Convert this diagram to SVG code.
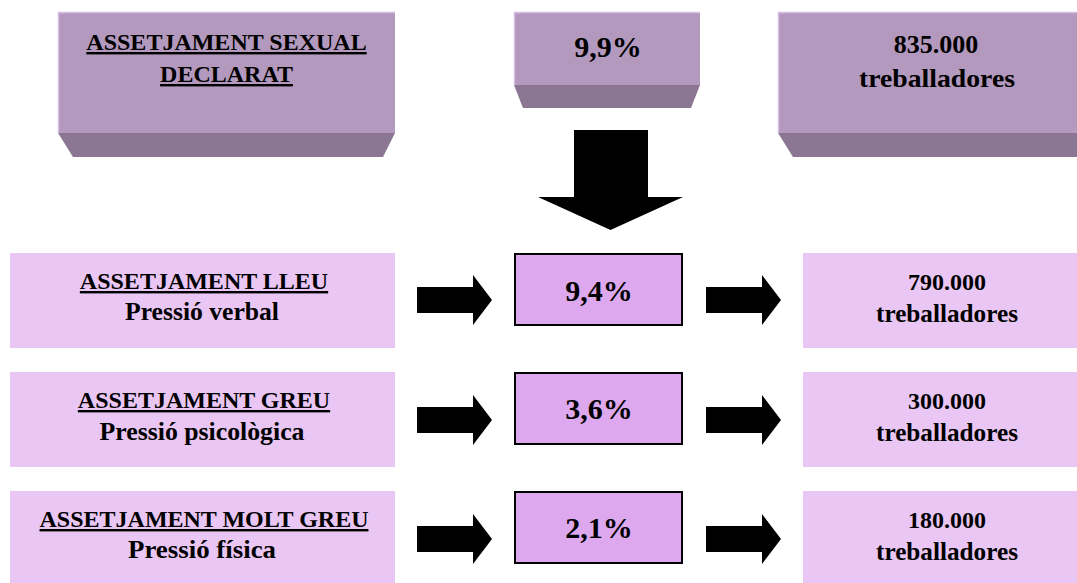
<svg xmlns="http://www.w3.org/2000/svg" width="1077" height="583" viewBox="0 0 1077 583">
<style>
  text { font-family: "Liberation Serif", "Times New Roman", serif; font-weight: bold; fill: #000; text-anchor: middle; }
  .front { fill: #B399BE; }
  .bevel { fill: #8B7793; }
  .edge { stroke: #D8BCE2; stroke-width: 1.5; fill: none; }
  .light { fill: #E9C6F3; }
  .pct { fill: #DDA8EE; stroke: #000; stroke-width: 2; }
  .arrow { fill: #000; }
  .u { text-decoration: underline; }
  .t24 { font-size: 24px; }
  .t25 { font-size: 25px; }
  .t26 { font-size: 26px; }
  .t30 { font-size: 30px; }
</style>
<defs>
  <path id="rarrow" d="M0,-13 H56 V-25 L75,0 L56,25 V13 H0 Z"/>
</defs>

<g id="node-sexual-declarat">
  <rect class="front" x="58" y="12" width="337" height="121"/>
  <polygon class="bevel" points="58,133 395,133 383,157 73,157"/>
  <polyline class="edge" points="58.5,133 58.5,12.5 395,12.5"/>
  <text class="t24 u" x="226.5" y="50">ASSETJAMENT SEXUAL</text>
  <text class="t24 u" x="226.5" y="82">DECLARAT</text>
</g>

<g id="node-9-9">
  <rect class="front" x="514" y="12" width="186" height="73"/>
  <polygon class="bevel" points="514,85 700,85 691,108 523,108"/>
  <polyline class="edge" points="514.5,85 514.5,12.5 700,12.5"/>
  <text class="t30" x="608" y="57">9,9%</text>
</g>

<g id="node-835000">
  <rect class="front" x="778" y="12" width="310" height="121"/>
  <polygon class="bevel" points="778,133 1088,133 1078,157 793,157"/>
  <polyline class="edge" points="778.5,133 778.5,12.5 1077,12.5"/>
  <text class="t26" x="936" y="53">835.000</text>
  <text class="t26" x="937" y="87" textLength="156" lengthAdjust="spacingAndGlyphs">treballadores</text>
</g>

<g id="connectors">
  <polygon id="down-arrow" class="arrow" points="574,130 648,130 648,197 683,197 610.5,230 538,197 574,197"/>
  <use href="#rarrow" class="arrow" x="417" y="300"/>
  <use href="#rarrow" class="arrow" x="706" y="300"/>
  <use href="#rarrow" class="arrow" x="417" y="420"/>
  <use href="#rarrow" class="arrow" x="706" y="420"/>
  <use href="#rarrow" class="arrow" x="417" y="539"/>
  <use href="#rarrow" class="arrow" x="706" y="539"/>
</g>

<g id="node-lleu">
  <rect class="light" x="10" y="253" width="385" height="95"/>
  <text class="t24 u" x="204" y="289">ASSETJAMENT LLEU</text>
  <text class="t25" x="202" y="320" textLength="154" lengthAdjust="spacingAndGlyphs">Pressió verbal</text>
</g>
<g id="node-pct-lleu">
  <rect class="pct" x="515" y="254" width="167" height="71"/>
  <text class="t30" x="599" y="301">9,4%</text>
</g>
<g id="node-790000">
  <rect class="light" x="803" y="253" width="274" height="95"/>
  <text class="t24" x="947" y="290">790.000</text>
  <text class="t25" x="947" y="322" textLength="142" lengthAdjust="spacingAndGlyphs">treballadores</text>
</g>

<g id="node-greu">
  <rect class="light" x="10" y="372" width="385" height="95"/>
  <text class="t24 u" x="204" y="408">ASSETJAMENT GREU</text>
  <text class="t25" x="202" y="440" textLength="205" lengthAdjust="spacingAndGlyphs">Pressió psicològica</text>
</g>
<g id="node-pct-greu">
  <rect class="pct" x="515" y="373" width="167" height="71"/>
  <text class="t30" x="599" y="419">3,6%</text>
</g>
<g id="node-300000">
  <rect class="light" x="803" y="372" width="274" height="95"/>
  <text class="t24" x="947" y="409">300.000</text>
  <text class="t25" x="947" y="441" textLength="142" lengthAdjust="spacingAndGlyphs">treballadores</text>
</g>

<g id="node-molt-greu">
  <rect class="light" x="10" y="491" width="385" height="95"/>
  <text class="t24 u" x="204" y="527">ASSETJAMENT MOLT GREU</text>
  <text class="t25" x="202" y="558" textLength="148" lengthAdjust="spacingAndGlyphs">Pressió física</text>
</g>
<g id="node-pct-molt-greu">
  <rect class="pct" x="515" y="492" width="167" height="71"/>
  <text class="t30" x="599" y="538">2,1%</text>
</g>
<g id="node-180000">
  <rect class="light" x="803" y="491" width="274" height="95"/>
  <text class="t24" x="947" y="528">180.000</text>
  <text class="t25" x="947" y="560" textLength="142" lengthAdjust="spacingAndGlyphs">treballadores</text>
</g>
</svg>
